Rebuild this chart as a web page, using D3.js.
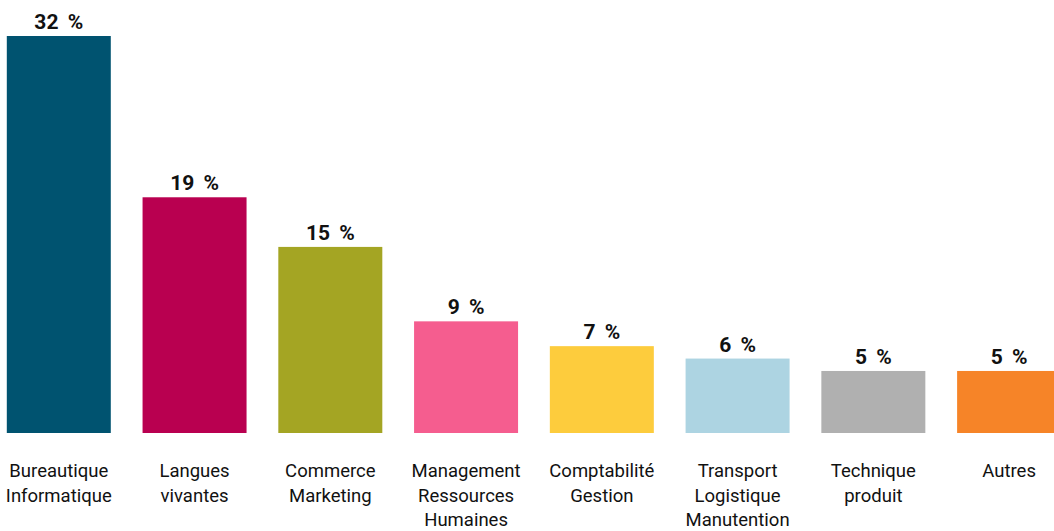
<!DOCTYPE html>
<html>
<head>
<meta charset="utf-8">
<script src="https://cdn.jsdelivr.net/npm/d3@7"></script>
<style>
  html, body { margin: 0; padding: 0; background: #fff; }
  svg { display: block; }
  .value-label { font-family: Roboto, "Open Sans", sans-serif; font-weight: 700; font-size: 21px; word-spacing: 4px; fill: #111; }
  .cat-label { font-family: Roboto, "Open Sans", sans-serif; font-size: 18.5px; fill: #111; }
</style>
</head>
<body>
<svg id="chart"></svg>
<script>
// Categories (one entry per line of the axis label)
const categories = [
  ["Bureautique", "Informatique"],
  ["Langues", "vivantes"],
  ["Commerce", "Marketing"],
  ["Management", "Ressources", "Humaines"],
  ["Comptabilité", "Gestion"],
  ["Transport", "Logistique", "Manutention"],
  ["Technique", "produit"],
  ["Autres"]
];
// Share of trainings, in percent
const shares = [32, 19, 15, 9, 7, 6, 5, 5];

const palette = ["#005370", "#b90050", "#a4a523", "#f55d8f", "#fdcc3d", "#add4e2", "#b0b0b0", "#f68428"];

const width = 1054, height = 531;

const data = categories.map((c, i) => ({ key: c.join(" "), lines: c, value: shares[i] }));

const svg = d3.select("#chart")
    .attr("width", width)
    .attr("height", height);

// x: band per category, y: percent
const xScale = d3.scaleBand()
    .domain(data.map(d => d.key))
    .range([6.8, 1061.1])
    .paddingInner(0.234)
    .paddingOuter(0);

const yScale = d3.scaleLinear()
    .domain([0, 32])
    .range([433, 36]);

const colorScale = d3.scaleOrdinal()
    .domain(data.map(d => d.key))
    .range(palette);

// bars
svg.selectAll(".bar")
    .data(data)
  .join("rect")
    .attr("class", "bar")
    .attr("x", d => xScale(d.key))
    .attr("width", xScale.bandwidth())
    .attr("y", d => yScale(d.value))
    .attr("height", d => yScale(0) - yScale(d.value))
    .attr("fill", d => colorScale(d.key));

// value labels above bars
svg.selectAll(".value-label")
    .data(data)
  .join("text")
    .attr("class", "value-label")
    .attr("x", d => xScale(d.key) + xScale.bandwidth() / 2)
    .attr("y", d => yScale(d.value) - 7)
    .attr("text-anchor", "middle")
    .text(d => `${d.value} %`);

// category labels, multi-line
const catLabels = svg.selectAll(".cat-label")
    .data(data)
  .join("text")
    .attr("class", "cat-label")
    .attr("text-anchor", "middle")
    .attr("transform", d => `translate(${xScale(d.key) + xScale.bandwidth() / 2},477)`);

catLabels.selectAll("tspan")
    .data(d => d.lines)
  .join("tspan")
    .attr("x", 0)
    .attr("y", (l, i) => i * 24.5)
    .text(l => l);
</script>
</body>
</html>
